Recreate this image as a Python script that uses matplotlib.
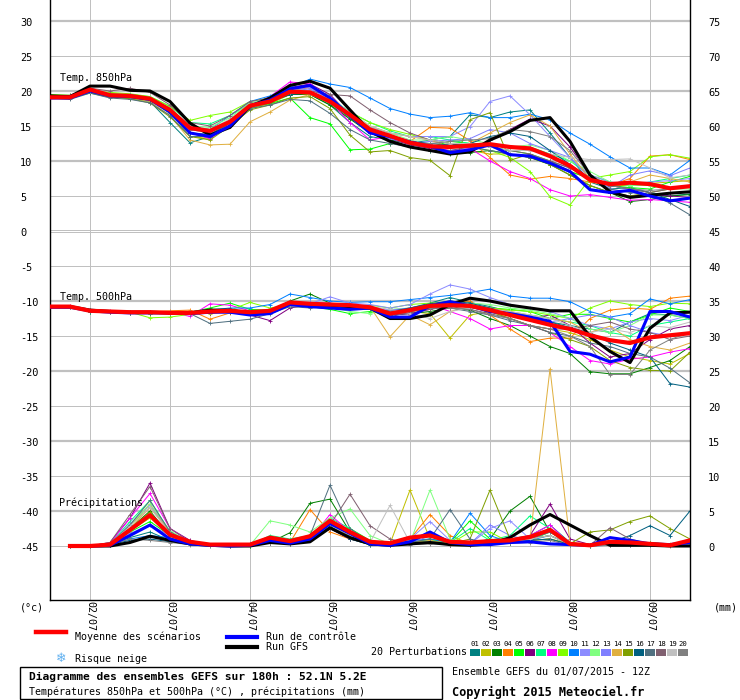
import numpy as np
import matplotlib
matplotlib.use("Agg")
import matplotlib.pyplot as plt
from matplotlib import transforms
from matplotlib.patches import Rectangle
from matplotlib.lines import Line2D

nan = float("nan")

# ---------------- data ----------------
lead_hours = list(range(0, 193, 6))          # 01/07 12Z .. 09/07 12Z, 6-hourly
day_hours = [12, 36, 60, 84, 108, 132, 156, 180]
day_labels = ["02/07", "03/07", "04/07", "05/07", "06/07", "07/07", "08/07", "09/07"]

member_names = ["%02d" % k for k in range(1, 21)]
member_colors = ["#008080", "#C0C000", "#008000", "#FF8000", "#00FF00", "#800080",
                 "#00FF80", "#FF00FF", "#80FF00", "#0080FF", "#8C8CFF", "#80FF80",
                 "#8080FF", "#E0B040", "#80A000", "#006080", "#507080", "#806070",
                 "#C0C0C0", "#808080"]

left_ticks = [30, 25, 20, 15, 10, 5, 0, -5, -10, -15, -20, -25, -30, -35, -40, -45]
right_ticks = [75, 70, 65, 60, 55, 50, 45, 40, 35, 30, 25, 20, 15, 10, 5, 0]

# Temperature 850 hPa (degC)
t850_mean = [19.1,19.1,20.2,19.4,19.3,18.9,17.3,14.7,14.3,15.6, 17.9,18.5,19.9,19.8,18.5,16.6,14.5,13.6,12.6,12.1,
             12.0,12.2,12.4,12.0,11.8,10.7,9.3,7.3,6.7,6.9, 6.7,6.1,6.4]
t850_gfs = [19.3,19.2,20.7,20.7,20.1,20.0,18.5,15.4,13.7,14.8, 17.8,19.0,20.8,21.4,20.4,17.3,14.2,12.8,12.0,11.5,
            11.0,11.3,13.0,14.2,15.8,16.2,12.8,8.0,5.6,4.8, 5.1,5.4,5.6]
t850_ctrl = [19.0,19.0,20.0,19.3,19.2,18.8,17.0,14.0,13.5,15.0, 17.9,18.7,20.3,20.8,19.0,16.5,14.0,13.5,12.7,12.1,
             11.2,11.6,12.3,10.9,10.7,9.7,8.5,5.9,5.5,5.8, 5.0,4.3,4.7]
t850_members = [
    [19.3,19.0,19.8,19.2,19.0,18.5,15.5,12.6,13.5,15.5, 17.5,18.3,19.5,19.5,18.0,15.5,13.5,13.0,12.5,13.0, 13.5,16.6,16.2,17.0,17.3,14.0,10.5,7.0,6.0,6.2, 5.5,5.0,5.3],
    [19.0,19.2,20.0,19.6,19.5,19.0,17.0,13.5,13.2,15.5, 17.5,18.2,19.5,19.6,18.2,16.0,14.5,13.5,12.5,12.0, 11.5,11.5,11.0,11.0,10.5,9.5,8.5,7.5,6.5,6.5, 6.8,7.0,7.2],
    [19.2,19.0,19.9,19.2,19.0,18.8,17.0,14.0,13.5,15.5, 17.8,18.5,19.5,19.5,18.0,16.0,14.0,13.0,12.0,11.5, 11.0,11.2,11.5,11.0,10.5,9.5,8.0,6.5,5.5,4.2, 4.5,5.0,5.2],
    [19.2,19.3,20.3,19.5,19.3,19.0,17.5,14.5,14.0,15.8, 18.0,18.8,20.0,20.5,19.0,16.5,14.5,13.5,12.8,14.8, 14.7,12.9,10.5,8.0,7.4,7.8,7.5,7.0,6.5,7.5, 10.7,10.9,10.2],
    [19.4,19.2,20.0,19.5,19.3,18.8,17.2,14.5,14.2,15.8, 17.8,18.2,19.0,16.2,15.3,11.6,11.7,12.5,13.0,12.0, 12.8,12.5,12.0,11.5,11.0,10.0,8.5,7.5,6.5,6.2, 6.0,7.0,7.8],
    [19.1,19.0,20.0,19.3,19.2,18.8,17.0,14.0,13.5,15.2, 17.8,18.8,20.5,21.0,19.5,16.5,14.0,13.2,12.3,11.8, 11.3,11.5,13.0,14.5,16.0,15.0,12.0,8.0,5.5,5.0, 5.2,5.0,4.8],
    [19.0,19.3,20.2,19.6,19.5,19.2,17.8,15.5,15.3,16.5, 18.2,18.8,19.8,19.8,19.0,17.0,15.5,14.3,13.5,13.5, 13.0,12.5,12.5,12.0,12.0,11.0,10.0,8.0,7.0,6.5, 7.0,7.5,8.0],
    [19.2,19.0,20.3,19.5,19.4,19.0,17.5,14.0,13.2,15.0, 18.0,19.2,21.3,21.0,18.5,15.5,13.0,13.5,13.0,12.0, 11.5,11.8,10.0,8.5,7.5,5.9,5.0,5.2,4.8,4.4, 4.5,4.3,4.1],
    [19.5,19.4,20.0,19.8,19.6,19.2,17.8,15.8,16.5,17.0, 18.5,19.0,19.8,19.5,18.8,17.0,15.5,14.5,13.8,13.0, 12.5,12.0,11.5,10.5,8.5,4.9,3.7,7.5,8.0,8.5, 10.6,10.9,10.4],
    [19.2,19.0,20.0,19.5,19.5,19.0,17.5,15.0,14.5,16.5, 18.5,19.3,20.5,21.7,21.0,20.5,19.0,17.5,16.7,16.2, 16.4,16.9,16.2,16.2,16.7,15.9,14.0,12.4,10.6,9.0, 9.0,8.0,10.1],
    [19.0,19.2,20.0,19.4,19.2,18.8,17.5,14.5,14.0,15.8, 18.2,19.0,20.2,20.5,19.0,16.5,14.8,14.0,13.5,13.5, 13.5,14.9,18.5,19.3,16.6,13.5,10.5,8.0,7.0,6.8, 7.0,7.2,7.5],
    [19.3,19.3,20.1,19.5,19.3,19.0,17.5,15.0,14.8,16.2, 18.3,18.8,19.8,19.8,18.8,17.0,15.0,14.0,13.0,13.0, 13.5,13.0,12.5,12.0,12.3,11.5,10.0,8.5,7.0,6.5, 6.5,6.0,6.0],
    [19.1,19.2,20.0,19.5,19.4,19.0,17.2,14.5,14.2,15.8, 18.0,18.8,20.0,20.3,18.8,16.3,14.0,13.2,12.5,12.8, 13.0,13.2,14.5,14.0,12.5,11.5,10.5,7.5,6.2,8.0, 8.6,7.9,9.0],
    [19.0,19.1,19.8,19.2,19.0,18.5,16.5,13.0,12.3,12.4, 15.6,17.0,18.7,19.5,18.5,16.5,15.0,14.0,13.5,13.0, 12.0,12.5,14.0,15.5,16.6,15.0,11.0,7.5,6.5,7.0, 8.0,7.5,7.0],
    [19.1,19.0,19.7,19.1,18.9,18.3,16.3,13.5,13.0,15.0, 17.3,18.0,19.0,19.2,17.5,13.7,11.3,11.5,10.5,10.1, 7.9,15.9,16.9,10.1,11.0,9.5,8.0,6.5,5.5,5.0, 5.5,6.0,6.5],
    [19.2,19.1,19.9,19.3,19.1,18.7,16.8,14.0,13.8,15.5, 17.8,18.5,19.5,19.7,18.3,16.2,14.2,13.5,12.8,12.5, 12.3,12.5,13.5,14.0,13.5,11.5,9.5,7.5,6.5,6.0, 5.5,4.5,3.5],
    [19.0,18.8,19.7,19.0,18.8,18.3,16.5,13.5,13.5,15.5, 17.5,18.0,18.8,18.6,16.8,14.5,13.0,12.5,12.0,11.5, 11.5,12.0,11.5,11.0,10.5,10.0,9.0,7.5,6.0,5.5, 5.2,4.0,2.3],
    [19.3,19.4,20.4,20.0,20.4,19.8,18.0,15.5,15.0,16.5, 18.5,19.0,19.8,20.0,19.5,19.3,17.3,15.5,14.0,13.0, 12.5,12.5,12.0,11.5,11.0,10.0,9.0,7.5,6.5,6.0, 5.5,6.0,6.5],
    [19.2,19.2,20.0,19.5,19.3,19.0,17.5,15.0,14.5,16.0, 18.0,18.8,19.9,20.0,18.8,17.0,15.0,14.0,13.5,13.0, 12.5,12.5,12.0,11.5,11.5,11.0,10.5,10.2,10.2,10.3, 9.0,7.6,8.0],
    [19.0,19.1,20.1,19.4,19.3,18.9,17.2,14.5,14.2,15.8, 17.8,18.5,19.7,19.6,18.5,16.5,14.5,13.5,12.5,12.5, 12.8,13.0,13.2,14.5,14.2,13.5,11.5,8.0,6.5,6.0, 5.8,6.0,6.5],
]

# Temperature 500 hPa (degC)
t500_mean = [-10.8,-10.8,-11.4,-11.5,-11.6,-11.6,-11.7,-11.7,-11.5,-11.4, -11.6,-11.4,-10.2,-10.4,-10.5,-10.6,-10.9,-11.8,-11.3,-10.7,
             -10.6,-10.7,-11.3,-12.0,-12.7,-13.4,-14.0,-14.9,-15.6,-16.0, -15.2,-14.9,-14.6]
t500_gfs = [-10.8,-10.8,-11.3,-11.5,-11.6,-11.6,-11.7,-11.7,-11.3,-11.3, -11.8,-11.5,-10.4,-10.5,-10.6,-10.8,-11.0,-12.5,-12.5,-12.0,
            -10.5,-9.6,-10.0,-10.6,-11.0,-11.4,-11.4,-15.1,-17.2,-18.8, -13.9,-11.7,-11.6]
t500_ctrl = [-10.9,-10.9,-11.4,-11.6,-11.7,-11.7,-11.7,-11.8,-11.6,-11.6, -12.0,-11.8,-10.5,-10.8,-11.0,-11.2,-11.0,-12.3,-12.3,-10.7,
             -10.1,-10.7,-11.5,-11.8,-12.3,-12.9,-17.2,-17.6,-18.7,-18.0, -11.5,-11.5,-12.3]
t500_members = [
    [-10.9,-10.8,-11.5,-11.6,-11.7,-11.8,-11.8,-11.6,-11.4,-11.3, -11.8,-11.3,-10.4,-10.3,-10.6,-10.8,-11.0,-11.5,-11.0,-10.3, -9.5,-10.2,-10.8,-11.5,-12.5,-13.0,-13.5,-14.0,-14.5,-13.0, -11.8,-12.0,-12.5],
    [-10.8,-10.7,-11.3,-11.5,-11.7,-11.8,-11.7,-11.6,-11.8,-11.5, -11.7,-11.3,-10.5,-10.6,-10.8,-10.7,-10.9,-11.5,-11.5,-11.8, -15.3,-12.0,-11.5,-12.5,-13.5,-14.0,-14.5,-15.5,-17.0,-18.0, -18.5,-19.0,-17.5],
    [-10.9,-10.9,-11.4,-11.6,-11.7,-11.7,-11.8,-11.9,-11.7,-11.5, -11.8,-11.5,-10.0,-9.0,-10.3,-11.0,-11.2,-12.0,-11.8,-11.5, -11.0,-11.3,-12.5,-13.5,-15.0,-16.5,-17.5,-20.1,-20.4,-20.4, -19.5,-18.5,-16.5],
    [-10.8,-10.8,-11.3,-11.5,-11.6,-11.5,-11.4,-11.3,-12.6,-11.7, -11.6,-11.2,-10.6,-10.7,-10.8,-10.9,-11.0,-11.8,-11.3,-10.5, -10.2,-10.0,-12.0,-14.0,-15.8,-15.3,-15.3,-12.5,-11.3,-11.0, -11.2,-9.6,-9.3],
    [-10.7,-10.8,-11.3,-11.5,-11.6,-11.6,-11.7,-11.6,-11.0,-10.3, -11.2,-11.3,-10.3,-10.8,-11.2,-11.8,-11.5,-12.0,-11.5,-10.8, -10.7,-10.5,-11.0,-11.2,-11.5,-12.5,-11.9,-11.9,-12.5,-13.0, -12.0,-11.0,-11.5],
    [-10.8,-10.9,-11.4,-11.6,-11.7,-11.7,-11.7,-11.8,-11.7,-11.5, -12.0,-12.8,-11.0,-10.5,-10.5,-10.6,-11.0,-12.0,-11.8,-11.2, -10.5,-10.5,-11.5,-12.0,-12.5,-12.0,-13.5,-16.0,-18.0,-17.5, -15.5,-14.0,-13.5],
    [-10.9,-10.8,-11.5,-11.6,-11.6,-11.6,-11.7,-11.7,-11.5,-11.2, -11.5,-11.6,-10.5,-10.7,-10.7,-10.8,-10.9,-11.5,-11.2,-10.6, -10.3,-10.8,-11.3,-11.8,-12.0,-12.5,-13.0,-13.5,-14.5,-15.0, -13.5,-13.0,-12.5],
    [-10.8,-10.7,-11.3,-11.4,-11.6,-11.7,-11.6,-12.2,-10.4,-10.6, -11.4,-11.3,-10.2,-10.4,-10.4,-10.6,-10.8,-11.5,-11.0,-10.5, -11.5,-12.5,-14.0,-13.5,-13.5,-14.5,-16.5,-18.5,-19.0,-18.3, -18.0,-17.3,-16.8],
    [-10.9,-10.9,-11.5,-11.6,-11.6,-12.4,-12.3,-11.9,-11.5,-11.3, -10.2,-11.0,-10.5,-10.5,-10.6,-10.8,-10.6,-11.0,-10.5,-10.3, -10.2,-10.5,-11.0,-11.3,-11.5,-12.0,-12.5,-11.0,-10.0,-10.5, -10.8,-10.3,-10.4],
    [-10.8,-10.8,-11.3,-11.5,-11.6,-11.6,-11.6,-11.6,-11.3,-11.0, -11.0,-10.5,-9.0,-9.5,-10.0,-10.2,-10.1,-10.1,-9.8,-9.5, -9.2,-8.8,-8.3,-9.3,-9.6,-9.6,-10.1,-11.5,-12.3,-11.8, -9.7,-10.4,-9.8],
    [-10.8,-10.9,-11.4,-11.5,-11.6,-11.6,-11.7,-11.7,-11.4,-11.3, -11.5,-11.3,-10.3,-10.4,-9.4,-10.3,-10.5,-11.0,-10.5,-9.0, -7.7,-8.3,-9.5,-10.5,-11.0,-11.5,-12.5,-13.5,-14.0,-13.0, -12.5,-12.8,-12.0],
    [-10.9,-10.8,-11.4,-11.6,-11.7,-11.6,-11.7,-11.7,-11.5,-11.4, -11.5,-11.5,-10.5,-10.6,-10.8,-11.5,-11.8,-11.2,-11.0,-10.8, -10.6,-10.3,-10.5,-11.0,-11.3,-11.8,-12.5,-14.0,-14.5,-13.5, -12.0,-12.0,-12.5],
    [-10.8,-10.8,-11.4,-11.5,-11.6,-11.7,-11.7,-11.6,-11.5,-11.4, -11.6,-11.4,-10.4,-10.2,-10.3,-10.6,-10.8,-11.3,-11.0,-10.7, -10.5,-10.6,-11.0,-11.8,-12.5,-13.0,-12.5,-12.0,-12.3,-13.5, -14.5,-15.0,-14.5],
    [-10.8,-10.8,-11.3,-11.5,-11.6,-11.6,-11.6,-11.6,-11.5,-11.5, -11.6,-11.4,-10.3,-10.4,-10.6,-10.7,-10.8,-15.1,-12.0,-13.4, -11.5,-10.8,-11.0,-11.5,-12.0,-12.5,-13.0,-14.5,-13.6,-15.5, -16.5,-17.0,-16.0],
    [-10.8,-10.9,-11.4,-11.6,-11.6,-11.7,-11.7,-11.7,-11.4,-11.2, -11.6,-11.4,-10.5,-10.6,-10.7,-10.8,-10.9,-11.6,-11.2,-10.6, -10.5,-10.9,-11.5,-12.5,-13.5,-14.5,-15.5,-16.5,-18.5,-19.5, -19.9,-20.0,-17.3],
    [-10.9,-10.9,-11.5,-11.6,-11.7,-11.7,-11.7,-11.8,-11.6,-11.5, -11.6,-11.5,-10.6,-10.7,-10.8,-10.9,-11.0,-11.5,-11.0,-10.4, -10.0,-10.3,-11.0,-11.8,-12.5,-13.0,-13.8,-14.5,-16.0,-17.0, -18.0,-21.8,-22.3],
    [-10.8,-10.8,-11.4,-11.6,-11.6,-11.7,-11.8,-11.8,-13.2,-12.9, -12.6,-11.8,-10.8,-11.0,-10.8,-11.0,-11.2,-12.0,-11.5,-11.0, -11.0,-11.5,-12.0,-12.8,-13.5,-14.5,-15.0,-16.0,-16.5,-17.5, -18.0,-19.6,-21.7],
    [-10.7,-10.8,-11.3,-11.5,-11.5,-11.6,-11.6,-11.6,-11.2,-11.3, -11.6,-11.4,-10.6,-10.8,-10.6,-10.7,-10.9,-12.3,-11.5,-11.2, -10.8,-11.2,-11.8,-12.5,-13.5,-14.0,-14.0,-13.5,-13.0,-14.0, -14.5,-15.5,-15.0],
    [-10.8,-10.8,-11.3,-11.5,-11.6,-11.6,-11.7,-11.7,-11.5,-11.4, -11.8,-11.5,-10.5,-10.6,-10.6,-10.7,-10.8,-11.2,-11.8,-12.5, -11.5,-11.0,-11.2,-11.5,-12.0,-12.5,-13.5,-14.5,-14.0,-14.5, -13.5,-13.8,-13.0],
    [-10.8,-10.8,-11.4,-11.5,-11.7,-11.6,-11.7,-11.7,-11.5,-11.4, -11.6,-11.4,-10.4,-10.5,-10.6,-10.8,-11.0,-11.5,-11.3,-11.0, -11.0,-11.2,-12.0,-12.5,-13.5,-14.0,-15.0,-16.5,-20.5,-20.5, -17.0,-15.5,-14.5],
]

# Precipitation (mm per 6 h)
precip_mean = [nan,0.0,0.0,0.2,2.3,4.4,1.6,0.6,0.2,0.2, 0.2,1.2,0.7,1.4,3.6,2.0,0.6,0.4,1.2,1.5,
               0.6,0.5,0.7,0.8,1.3,2.3,0.3,0.1,0.6,0.5, 0.3,0.1,0.8]
precip_gfs = [nan,0.0,0.0,0.0,0.5,1.4,0.8,0.3,0.1,0.0, 0.0,0.5,0.3,0.6,2.6,1.2,0.3,0.1,0.3,0.5,
              0.2,0.1,0.3,1.2,3.0,4.5,3.0,1.5,0.1,0.1, 0.1,0.0,0.0]
precip_ctrl = [nan,0.0,0.0,0.1,1.5,3.0,1.0,0.3,0.1,0.0, 0.1,0.8,0.4,1.0,3.2,1.8,0.3,0.1,0.6,2.0,
               0.5,0.2,0.2,0.5,0.6,0.3,0.2,0.1,1.2,0.8, 0.3,0.2,0.5]
precip_members = [
    [nan,0,0,0.2,1.2,2.0,0.8,0.3,0,0, 0,0.5,0.3,0.8,2.5,1.0,0.2,0.1,0.5,0.8, 0.3,0.2,0.5,1.0,1.5,3.0,0.5,0.1,0.3,0.2, 0.1,0.1,0.3],
    [nan,0,0,0.3,3.0,5.5,2.0,0.5,0.1,0, 0.2,1.0,0.5,1.5,3.5,1.5,0.5,0.3,8.0,1.0, 0.3,0.2,0.5,0.8,1.0,1.5,0.2,0,0.3,0.4, 0.5,0.2,0.1],
    [nan,0,0,0.2,2.5,5.0,1.5,0.4,0.1,0, 0,0.5,1.9,6.1,6.7,2.0,0.5,0.2,0.3,0.5, 0.2,0.3,1.0,5.0,7.1,2.0,0.3,0.1,0.2,0.3, 0.5,0.2,0.4],
    [nan,0,0,0.3,3.0,6.0,2.0,0.5,0.1,0, 0.1,0.8,0.5,5.2,2.0,1.0,0.3,0.1,1.0,4.5, 1.5,0.3,0.3,0.5,0.8,1.0,0.2,0.1,0.2,0.3, 0.2,0.1,0.2],
    [nan,0,0,0.2,2.0,3.5,1.5,0.5,0.1,0, 0,1.0,0.8,1.5,3.0,2.5,0.8,0.3,0.5,1.0, 0.5,3.6,1.0,0.5,0.8,2.0,0.3,0,0.2,0.3, 0.2,0.1,0.2],
    [nan,0,0,0.5,4.0,9.0,2.5,0.8,0.2,0, 0.1,0.5,0.3,0.8,2.5,1.0,0.3,0.1,0.3,0.5, 0.2,0.1,0.3,0.5,1.5,6.0,1.0,0.2,0.3,0.2, 0.1,0.1,0.2],
    [nan,0,0,0.3,3.5,6.5,2.0,0.5,0.1,0, 0.1,1.5,1.0,1.5,4.0,2.5,0.5,0.2,0.5,0.8, 0.5,2.5,0.8,1.5,4.3,2.5,0.3,0.1,0.2,0.3, 0.2,0.1,0.2],
    [nan,0,0,0.4,4.0,7.5,2.5,0.6,0.1,0, 0.1,0.5,0.3,1.0,4.5,2.0,0.5,0.2,0.3,0.5, 0.3,0.2,0.5,0.8,1.5,3.0,0.3,0.1,0.2,0.2, 0.1,0.1,1.0],
    [nan,0,0,0.3,2.2,4.0,1.8,0.5,0.1,0, 0.1,0.8,0.5,1.0,3.5,1.5,0.4,0.1,0.3,0.5, 0.3,2.0,2.0,0.5,1.0,2.0,0.2,0.1,0.5,0.4, 0.2,0.1,0.3],
    [nan,0,0,0.2,1.0,1.5,1.2,0.3,0.1,0, 0.3,0.7,0.3,0.8,2.8,1.2,0.3,0.1,0.8,1.0, 0.5,4.7,1.5,0.5,0.8,1.5,0.2,0,0.1,0.2, 0.1,0.1,0.2],
    [nan,0,0,0.3,3.2,5.8,2.0,0.5,0.1,0, 0.1,0.5,0.3,1.0,3.8,1.8,0.5,0.2,1.0,3.5, 0.8,0.3,2.5,3.6,1.0,2.0,0.5,0.1,0.2,0.3, 0.2,0.2,0.5],
    [nan,0,0,0.3,3.0,6.0,2.2,0.5,0.1,0, 0.1,3.6,3.0,2.0,4.0,5.3,1.5,0.3,0.5,8.0, 1.0,0.3,0.5,0.8,1.0,1.5,0.2,0.1,0.2,0.3, 0.2,0.1,0.2],
    [nan,0,0,0.2,1.8,3.0,1.5,0.4,0.1,0, 0.1,0.6,0.4,1.2,3.2,1.5,0.4,0.1,0.3,1.5, 0.5,0.3,3.0,1.5,0.8,2.5,0.3,0.1,0.2,0.2, 0.1,0.1,0.3],
    [nan,0,0,0.3,2.5,5.5,2.0,0.5,0.1,0, 0.1,0.8,0.5,1.0,3.5,1.5,0.4,0.2,0.5,0.8, 0.3,0.3,0.5,0.8,1.0,25.3,0.5,0.1,0.2,0.5, 0.5,0.3,0.2],
    [nan,0,0,0.2,2.5,4.8,1.5,0.4,0.1,0, 0.1,0.6,0.4,1.0,3.0,1.5,0.3,0.1,0.3,0.5, 0.3,1.0,8.0,1.0,0.8,1.0,0.3,2.0,2.3,3.5, 4.3,2.5,1.0],
    [nan,0,0,0.2,0.8,1.0,0.6,0.3,0.1,0, 0.1,0.5,0.3,0.8,2.8,1.0,0.2,0.1,0.3,0.5, 0.3,0.2,0.3,0.5,0.8,1.0,0.2,0.1,0.5,1.5, 2.9,1.5,5.0],
    [nan,0,0,0.3,3.0,6.5,2.0,0.5,0.1,0, 0.1,0.5,0.3,1.5,8.7,2.5,0.5,0.2,0.5,1.0, 5.2,1.0,0.3,0.5,1.0,2.0,0.3,0.1,0.2,0.3, 0.2,0.1,0.3],
    [nan,0,0,0.5,4.5,8.5,2.5,0.6,0.1,0, 0.1,0.5,0.3,1.0,3.0,7.4,2.9,1.0,0.3,0.5, 0.3,0.2,0.5,0.8,1.0,1.5,0.3,0.1,2.6,1.0, 0.3,0.1,0.3],
    [nan,0,0,0.3,2.8,5.5,1.8,0.5,0.1,0, 0.1,0.6,0.4,1.0,3.0,1.5,0.5,5.8,0.5,0.5, 0.3,0.2,0.4,0.6,1.0,1.5,0.2,0.1,0.2,0.2, 0.1,0.1,0.2],
    [nan,0,0,0.2,1.0,0.8,0.5,0.2,0.1,0, 0.1,0.5,0.3,0.8,2.5,1.2,0.3,0.1,0.2,0.3, 0.2,0.1,0.2,0.4,0.5,0.8,0.1,0,0.1,0.1, 0.1,0,0.1],
]

PRECIP_ZERO = -45.0  # precipitation is drawn on the lower scale, 0 mm at -45

# ---------------- figure ----------------
W, H = 740, 700
fig = plt.figure(figsize=(W / 100, H / 100), dpi=100)
fig.patch.set_facecolor("white")
ax = fig.add_axes([50 / W, 100 / H, 640 / W, 600 / H])
ax.set_xlim(0, 192)
ax.set_ylim(-45 - 54 / 7.0, 231 / 7.0)
ax.set_xticks([])
ax.set_yticks([])
ax.spines["top"].set_visible(False)
for s in ("left", "right", "bottom"):
    ax.spines[s].set_color("black")
    ax.spines[s].set_linewidth(1.0)

MONO = "DejaVu Sans Mono"
GRID = "#C0C0C0"
PX = 0.72  # one pixel in points

def fx(px):
    return px / W

def fy(py):
    return 1 - py / H

def hx(px):
    """pixel column inside the plot -> lead hour"""
    return (px - 50) * 0.3

# grid
for h in day_hours:
    ax.axvline(h, color=GRID, lw=PX, zorder=0)
for v in left_ticks:
    if v == 0:
        ax.axhline(0.14, color=GRID, lw=PX, zorder=0)
        ax.axhline(-0.14, color=GRID, lw=PX, zorder=0)
    elif v % 10 == 0:
        ax.axhline(v, color=GRID, lw=2.2 * PX, zorder=0)
    else:
        ax.axhline(v, color=GRID, lw=PX, zorder=0)

# axis labels (left / right)
tr_l = transforms.blended_transform_factory(fig.transFigure, ax.transData)
for v, r in zip(left_ticks, right_ticks):
    fig.text(fx(20), v - 0.25, str(v), transform=tr_l, fontsize=7.4, family=MONO,
             ha="left", va="center")
    fig.text(fx(708), v - 0.25, str(r), transform=tr_l, fontsize=7.4, family=MONO,
             ha="left", va="center")

# date labels
tr_d = transforms.blended_transform_factory(ax.transData, fig.transFigure)
for h, lab in zip(day_hours, day_labels):
    fig.text(h, fy(601), lab, transform=tr_d, fontsize=7.2, family=MONO,
             rotation=270, ha="center", va="top")

fig.text(fx(20), fy(607), "(°c)", fontsize=7.2, family=MONO, va="center")
fig.text(fx(714), fy(607), "(mm)", fontsize=7.2, family=MONO, va="center")

# panel titles
ax.text(hx(60), (231 - 78) / 7.0, "Temp. 850hPa", fontsize=7.2, family=MONO, va="center")
ax.text(hx(60), (231 - 297) / 7.0, "Temp. 500hPa", fontsize=7.2, family=MONO, va="center")
ax.text(hx(59), (231 - 503) / 7.0, "Précipitations", fontsize=7.2, family=MONO, va="center")

x = np.array(lead_hours, dtype=float)
mk = dict(lw=0.72, marker="+", ms=3.0, mew=0.6)

for k, c in enumerate(member_colors):
    ax.plot(x, t850_members[k], color=c, zorder=2, **mk)
    ax.plot(x, t500_members[k], color=c, zorder=2, **mk)
    ax.plot(x, np.array(precip_members[k]) + PRECIP_ZERO, color=c, zorder=2, **mk)

main_styles = (("black", 2.2, 3), ("#0000FF", 2.2, 4), ("#FF0000", 3.0, 5))
for trio in ((t850_gfs, t850_ctrl, t850_mean), (t500_gfs, t500_ctrl, t500_mean)):
    for series, (col, lw, z) in zip(trio, main_styles):
        ax.plot(x, series, color=col, lw=lw, zorder=z, solid_joinstyle="round")
for series, (col, lw, z) in zip((precip_gfs, precip_ctrl, precip_mean), main_styles):
    ax.plot(x, np.array(series) + PRECIP_ZERO, color=col, lw=lw, zorder=z,
            solid_joinstyle="round")

# ---------------- legend / footer ----------------
fig.add_artist(Line2D([fx(36), fx(66)], [fy(632), fy(632)], color="#FF0000", lw=3.2,
                      transform=fig.transFigure))
fig.text(fx(75), fy(637), "Moyenne des scénarios", fontsize=7.2, family=MONO, va="center")
fig.add_artist(Line2D([fx(227), fx(257)], [fy(637), fy(637)], color="#0000FF", lw=3.0,
                      transform=fig.transFigure))
fig.text(fx(266), fy(637), "Run de contrôle", fontsize=7.2, family=MONO, va="center")
fig.add_artist(Line2D([fx(227), fx(257)], [fy(647), fy(647)], color="black", lw=3.0,
                      transform=fig.transFigure))
fig.text(fx(266), fy(647), "Run GFS", fontsize=7.2, family=MONO, va="center")
fig.text(fx(61), fy(658), "\u2744", fontsize=9, family="DejaVu Sans", color="#60B0F0",
         ha="center", va="center")
fig.text(fx(75), fy(659), "Risque neige", fontsize=7.2, family=MONO, va="center")

fig.text(fx(467), fy(652), "20 Perturbations", fontsize=7.2, family=MONO, ha="right",
         va="center")
for k, (name, c) in enumerate(zip(member_names, member_colors)):
    x0 = 470 + 10.95 * k
    fig.add_artist(Rectangle((fx(x0), fy(656)), 10 / W, 7 / H, facecolor=c, edgecolor="none",
                             transform=fig.transFigure))
    fig.text(fx(x0 + 5), fy(644), name, fontsize=5.2, family=MONO, ha="center", va="center")

fig.add_artist(Rectangle((fx(20), fy(699)), 422 / W, 32 / H, fill=False, edgecolor="black",
                         lw=1.0, transform=fig.transFigure))
fig.text(fx(29), fy(677), "Diagramme des ensembles GEFS sur 180h : 52.1N 5.2E", fontsize=8.1,
         family=MONO, weight="bold", va="center")
fig.text(fx(29), fy(692), "Températures 850hPa et 500hPa (°C) , précipitations (mm)",
         fontsize=7.2, family=MONO, va="center")
fig.text(fx(452), fy(672), "Ensemble GEFS du 01/07/2015 - 12Z", fontsize=7.2, family=MONO,
         va="center")
fig.text(fx(452), fy(692), "Copyright 2015 Meteociel.fr", fontsize=8.6, family=MONO,
         weight="bold", va="center")

fig.savefig("out.png", dpi=100, facecolor="white")
